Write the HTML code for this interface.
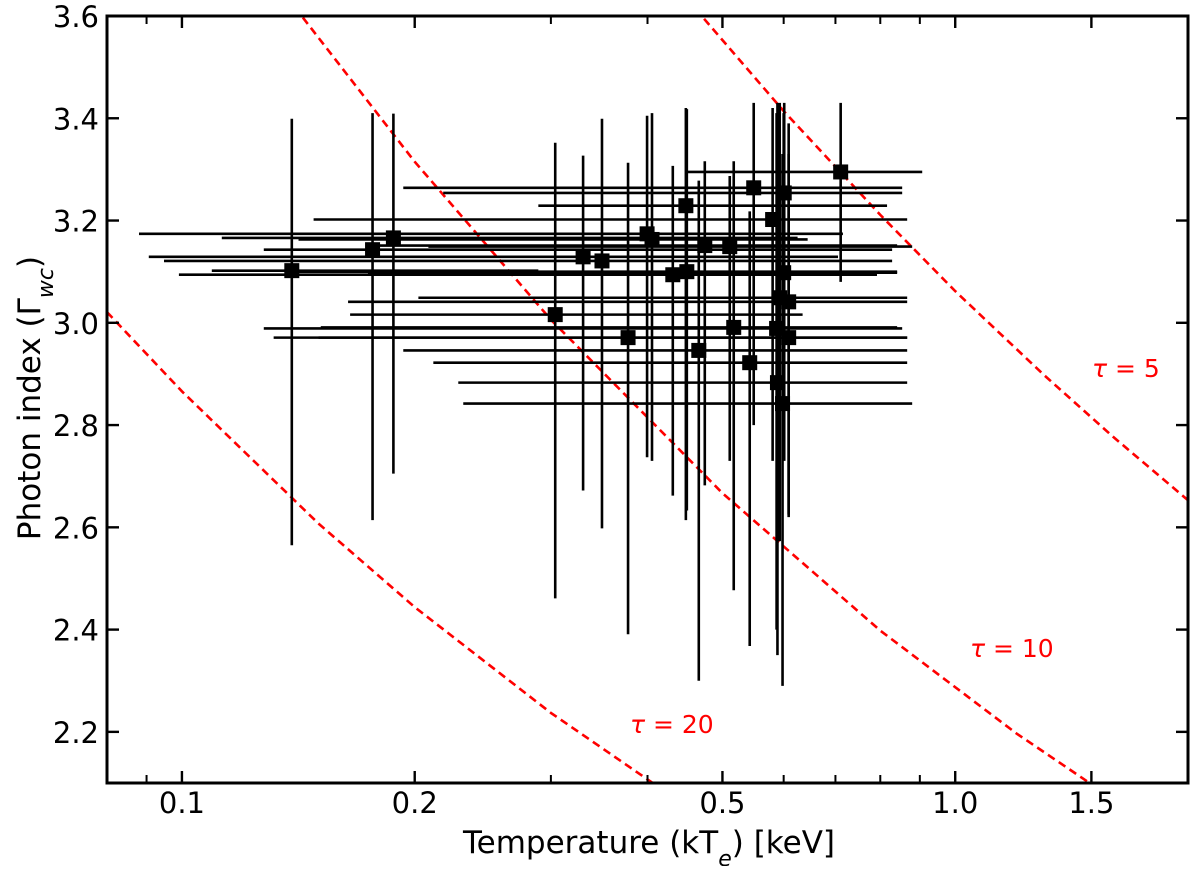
<!DOCTYPE html>
<html><head><meta charset="utf-8"><style>
body{margin:0;background:#fff;}
svg text{font-family:"DejaVu Sans","Liberation Sans",sans-serif;}
</style></head><body>
<svg id="chart" width="1200" height="866" viewBox="0 0 1200 866" xmlns="http://www.w3.org/2000/svg">
<defs><clipPath id="plotclip"><rect x="107" y="16" width="1081" height="767"/></clipPath></defs>
<rect x="0" y="0" width="1200" height="866" fill="#fff"/>
<g id="curves" clip-path="url(#plotclip)"></g>
<g id="points" clip-path="url(#plotclip)"></g>
<g id="axes"></g>
<text x="1092" y="377" fill="#ff0000" font-size="25"><tspan font-style="italic">τ</tspan> = 5</text>
<text x="970" y="657" fill="#ff0000" font-size="25"><tspan font-style="italic">τ</tspan> = 10</text>
<text x="630" y="733" fill="#ff0000" font-size="25"><tspan font-style="italic">τ</tspan> = 20</text>
<text x="649" y="853" text-anchor="middle" font-size="31">Temperature (kT<tspan baseline-shift="sub" font-size="22" font-style="italic">e</tspan>) [keV]</text>
<text transform="translate(40,398) rotate(-90)" text-anchor="middle" font-size="31">Photon index (Γ<tspan baseline-shift="sub" font-size="22" font-style="italic">wc</tspan>)</text>
</svg>
<script>
const xMajorTicks=[0.1,0.2,0.5,1.0,1.5];
const xMajorLabels=["0.1","0.2","0.5","1.0","1.5"];
const xMinorTicks=[0.09,0.3,0.4,0.6,0.7,0.8,0.9];
const yTicks=[2.2,2.4,2.6,2.8,3.0,3.2,3.4,3.6];
const yLabels=["2.2","2.4","2.6","2.8","3.0","3.2","3.4","3.6"];
const ptKT=[0.1387,0.1764,0.1877,0.3039,0.3302,0.3493,0.3775,0.3995,0.4054,0.4313,0.4484,0.4497,0.4660,0.4744,0.5110,0.5171,0.5423,0.5488,0.5806,0.5875,0.589,0.593,0.598,0.600,0.601,0.609,0.609,0.711];
const ptGamma=[3.102,3.143,3.166,3.016,3.129,3.121,2.971,3.174,3.163,3.094,3.229,3.100,2.946,3.151,3.149,2.991,2.922,3.264,3.202,2.989,2.883,3.049,2.842,3.098,3.254,3.041,2.971,3.295];
const ptGammaHi=[3.399,3.41,3.409,3.352,3.327,3.399,3.313,3.405,3.41,3.307,3.42,3.418,3.278,3.316,3.287,3.316,3.218,3.43,3.42,3.41,3.43,3.43,3.33,3.41,3.43,3.33,3.39,3.43];
const ptGammaLo=[2.565,2.614,2.705,2.461,2.672,2.598,2.391,2.737,2.73,2.662,2.614,2.633,2.30,2.682,2.73,2.477,2.368,2.80,2.73,2.40,2.35,2.573,2.29,2.75,2.73,2.62,2.625,3.08];
const ptKTLo=[0.1093,0.1276,0.1126,0.165,0.0906,0.0948,0.1314,0.088,0.1415,0.0991,0.289,0.1415,0.1933,0.1796,0.2083,0.1512,0.2114,0.1933,0.148,0.1276,0.2277,0.2022,0.2311,0.174,0.2177,0.164,0.1502,0.4507];
const ptKTHi=[0.289,0.8287,0.6254,0.6348,0.7054,0.8287,0.8667,0.7158,0.6444,0.7922,0.8163,0.8412,0.8667,0.8412,0.8797,0.8412,0.8667,0.8539,0.8667,0.8539,0.8667,0.8667,0.8797,0.8412,0.8539,0.8667,0.8667,0.9064];
const tau5KT=[0.45,0.6,0.8,1.0,1.3,1.6,2.0];
const tau5G=[3.633,3.414,3.211,3.062,2.899,2.777,2.653];
const tau10KT=[0.14,0.2,0.3,0.5,0.8,1.2,1.6];
const tau10G=[3.617,3.315,3.006,2.667,2.398,2.197,2.069];
const tau20KT=[0.08,0.1,0.15,0.2,0.3,0.42];
const tau20G=[3.021,2.866,2.608,2.444,2.237,2.085];

const X0=107,X1=1188,Y0=16,Y1=783;
const xmin=0.08,xmax=2.0,ymin=2.1,ymax=3.6;
function xs(v){return X0+(Math.log10(v)-Math.log10(xmin))/(Math.log10(xmax)-Math.log10(xmin))*(X1-X0);}
function ys(v){return Y1-(v-ymin)/(ymax-ymin)*(Y1-Y0);}
const NS="http://www.w3.org/2000/svg";
function mk(tag,attrs,parent){const e=document.createElementNS(NS,tag);for(const k in attrs)e.setAttribute(k,attrs[k]);parent.appendChild(e);return e;}

const curves=document.getElementById('curves');
[[tau5KT,tau5G,'tau-5-curve'],[tau10KT,tau10G,'tau-10-curve'],[tau20KT,tau20G,'tau-20-curve']].forEach(([kx,gy,nm])=>{
  const pts=kx.map((k,i)=>xs(k).toFixed(1)+','+ys(gy[i]).toFixed(1)).join(' ');
  const p=mk('polyline',{points:pts,fill:'none',stroke:'#ff0000','stroke-width':2.6,'stroke-dasharray':'8,5'},curves);
  
  
});

const pg=document.getElementById('points');
for(let i=0;i<ptKT.length;i++){
  const cx=xs(ptKT[i]),cy=ys(ptGamma[i]);
  const h=mk('line',{x1:xs(ptKTLo[i]),x2:xs(ptKTHi[i]),y1:cy,y2:cy,stroke:'#000','stroke-width':2.6},pg);
  
  
  const v=mk('line',{x1:cx,x2:cx,y1:ys(ptGammaHi[i]),y2:ys(ptGammaLo[i]),stroke:'#000','stroke-width':2.6},pg);
  
  
}
for(let i=0;i<ptKT.length;i++){
  const cx=xs(ptKT[i]),cy=ys(ptGamma[i]);
  const r=mk('rect',{x:cx-7.5,y:cy-7.5,width:15,height:15,fill:'#000'},pg);
  
  
}

const ax=document.getElementById('axes');
xMajorTicks.forEach((t,i)=>{
  const x=xs(t);
  const a=mk('line',{x1:x,x2:x,y1:Y1,y2:Y1-12,stroke:'#000','stroke-width':2.4},ax);
  
  
  const b=mk('line',{x1:x,x2:x,y1:Y0,y2:Y0+12,stroke:'#000','stroke-width':2.4},ax);
  
  
  const tx=mk('text',{x:x,y:813,'text-anchor':'middle','font-size':29},ax);
  tx.textContent=xMajorLabels[i];
  
  
});
xMinorTicks.forEach(t=>{
  const x=xs(t);
  const a=mk('line',{x1:x,x2:x,y1:Y1,y2:Y1-8,stroke:'#000','stroke-width':2},ax);
  
  
  const b=mk('line',{x1:x,x2:x,y1:Y0,y2:Y0+8,stroke:'#000','stroke-width':2},ax);
  
  
});
yTicks.forEach((t,i)=>{
  const y=ys(t);
  const a=mk('line',{x1:X0,x2:X0+12,y1:y,y2:y,stroke:'#000','stroke-width':2.4},ax);
  
  
  const b=mk('line',{x1:X1,x2:X1-12,y1:y,y2:y,stroke:'#000','stroke-width':2.4},ax);
  
  
  const tx=mk('text',{x:99,y:y+11,'text-anchor':'end','font-size':29},ax);
  tx.textContent=yLabels[i];
  
  
});
const fr=mk('rect',{x:X0,y:Y0,width:X1-X0,height:Y1-Y0,fill:'none',stroke:'#000','stroke-width':3},ax);


</script>
</body></html>
